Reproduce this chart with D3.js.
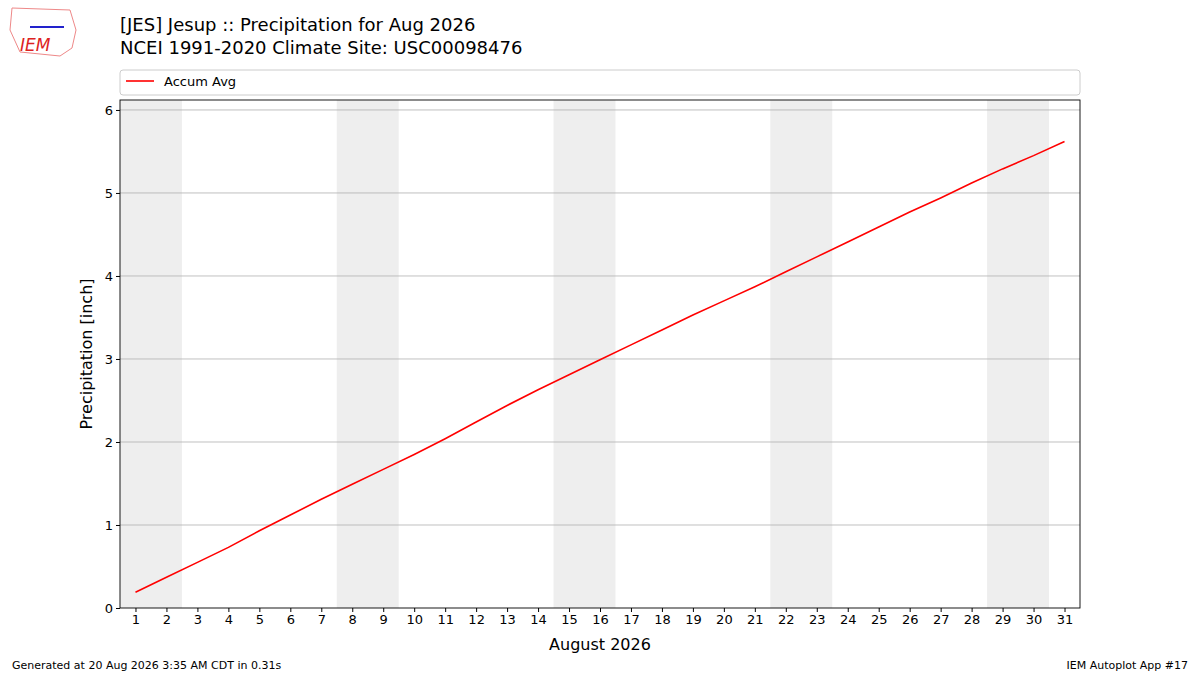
<!DOCTYPE html><html><head><meta charset="utf-8"><script src="https://cdn.jsdelivr.net/npm/d3@7"></script>
<style>body{margin:0;background:#fff}text{font-family:"DejaVu Sans",sans-serif}</style></head><body>
<svg id="c" width="1200" height="675"></svg>
<script>
const days=d3.range(1,32);
const accum=[0.19,0.37,0.55,0.73,0.93,1.12,1.31,1.49,1.67,1.85,2.04,2.24,2.44,2.63,2.81,2.99,3.17,3.35,3.53,3.70,3.87,4.05,4.23,4.41,4.59,4.77,4.94,5.12,5.29,5.45,5.62];
const weekends=[[1,2],[8,9],[15,16],[22,23],[29,30]];
const yTicks=[0,1,2,3,4,5,6];
const svg=d3.select("#c");
const L=120,R=1080,T=100,B=608;
const x=d3.scaleLinear().domain([0.5,31.5]).range([L,R]);
const y=d3.scaleLinear().domain([0,6.12]).range([B,T]);
svg.selectAll(".we").data(weekends).enter().append("rect").attr("x",d=>x(d[0]-0.5)).attr("width",d=>x(d[1]+0.5)-x(d[0]-0.5)).attr("y",T).attr("height",B-T).attr("fill","#eeeeee");
svg.selectAll(".gl").data(yTicks.slice(1)).enter().append("line").attr("x1",L).attr("x2",R).attr("y1",d=>y(d)).attr("y2",d=>y(d)).attr("stroke","#b0b0b0").attr("stroke-width",0.8);
svg.append("path").datum(days).attr("fill","none").attr("stroke","red").attr("stroke-width",1.6)
 .attr("d",d3.line().x(d=>x(d)).y((d,i)=>y(accum[i])));
svg.append("rect").attr("x",L).attr("y",T).attr("width",R-L).attr("height",B-T).attr("fill","none").attr("stroke","#000").attr("stroke-width",0.9);
const xa=svg.append("g").attr("transform",`translate(0,${B})`).call(d3.axisBottom(x).tickValues(days).tickFormat(d3.format("d")).tickSize(4));
const ya=svg.append("g").attr("transform",`translate(${L},0)`).call(d3.axisLeft(y).tickValues(yTicks).tickFormat(d3.format("d")).tickSize(4));
[xa,ya].forEach(a=>{a.select(".domain").remove();a.selectAll("text").attr("font-size",13).attr("fill","#000");});
svg.append("text").attr("x",600).attr("y",650).attr("text-anchor","middle").attr("font-size",16).text("August 2026");
svg.append("text").attr("transform","translate(92,354) rotate(-90)").attr("text-anchor","middle").attr("font-size",16).text("Precipitation [inch]");
svg.append("text").attr("x",120).attr("y",31).attr("font-size",18).text("[JES] Jesup :: Precipitation for Aug 2026");
svg.append("text").attr("x",120).attr("y",54).attr("font-size",18).text("NCEI 1991-2020 Climate Site: USC00098476");
svg.append("rect").attr("x",120).attr("y",70).attr("width",960).attr("height",25).attr("rx",3).attr("fill","#fff").attr("stroke","#ccc");
svg.append("line").attr("x1",126).attr("x2",154).attr("y1",81).attr("y2",81).attr("stroke","red").attr("stroke-width",1.6);
svg.append("text").attr("x",164).attr("y",86).attr("font-size",13).text("Accum Avg");
svg.append("text").attr("x",12).attr("y",669).attr("font-size",11).text("Generated at 20 Aug 2026 3:35 AM CDT in 0.31s");
svg.append("text").attr("x",1188).attr("y",669).attr("font-size",11).attr("text-anchor","end").text("IEM Autoplot App #17");
svg.append("path").attr("d","M12,8 L70,10 L76,30 L72,48 L60,56 L20,52 L10,30 Z").attr("fill","none").attr("stroke","#e88").attr("stroke-width",1);
svg.append("text").attr("x",20).attr("y",51).attr("font-size",17).attr("font-style","italic").attr("font-family","Liberation Serif").attr("fill","#d22").text("IEM");
svg.append("line").attr("x1",30).attr("x2",64).attr("y1",27).attr("y2",27).attr("stroke","#22c").attr("stroke-width",2);
</script></body></html>
